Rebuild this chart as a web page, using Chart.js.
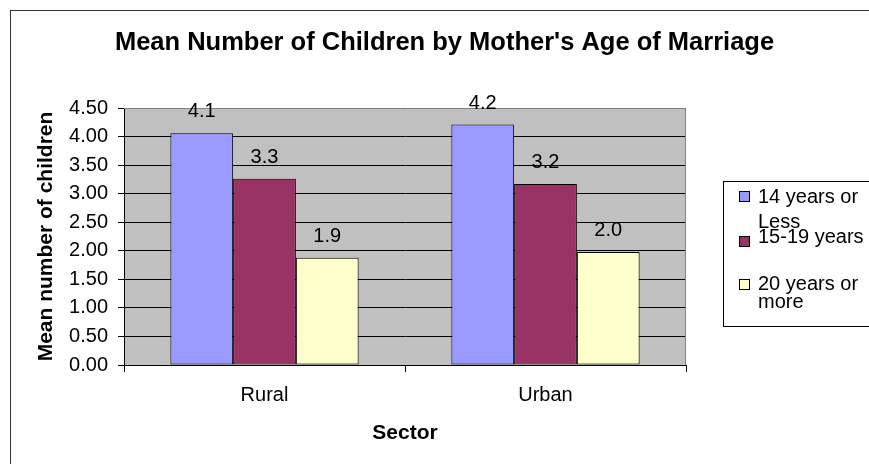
<!DOCTYPE html>
<html>
<head>
<meta charset="utf-8">
<script src="https://cdn.jsdelivr.net/npm/chart.js@4.4.0/dist/chart.umd.min.js"></script>
<style>
body { margin: 0; overflow: hidden; background: #fff; font-family: Arial, "Liberation Sans", sans-serif; }
#wrap { position: relative; width: 869px; height: 464px; }
#legend { position: absolute; left: 723px; top: 181px; width: 170px; height: 144px; border: 1px solid #000; }
.sw { position: absolute; width: 9px; height: 9px; border: 1px solid #000; }
.lt { position: absolute; font-size: 20px; line-height: 20px; white-space: nowrap; color: #000; }
</style>
</head>
<body>
<div id="wrap">
    <canvas id="chart" width="869" height="464"></canvas>
    <div id="legend"></div>
</div>
<script>
const sectors = ['Rural', 'Urban'];
const seriesNames = ['14 years or Less', '15-19 years', '20 years or more'];
const legendText = [['14 years or', 'Less'], ['15-19 years'], ['20 years or', 'more']];
const age14OrLess = [4.06, 4.21];
const age15to19 = [3.26, 3.17];
const age20OrMore = [1.88, 1.98];
const yMax = 4.5;
const yStep = 0.5;

const FONT = 'Arial, "Liberation Sans", sans-serif';
Chart.defaults.font.family = FONT;
Chart.defaults.color = '#000';

// grey plot area, grey border, outer frame
const plotBox = {
    id: 'plotBox',
    beforeDraw(chart) {
        const ctx = chart.ctx, a = chart.chartArea;
        ctx.save();
        ctx.fillStyle = '#fff';
        ctx.fillRect(0, 0, chart.width, chart.height);
        ctx.strokeStyle = '#333';
        ctx.lineWidth = 1;
        ctx.strokeRect(10.5, 10.5, 900, 500);
        ctx.fillStyle = '#c0c0c0';
        ctx.fillRect(a.left, a.top, a.right - a.left, a.bottom - a.top);
        ctx.restore();
    },
    afterDatasetsDraw(chart) {
        const ctx = chart.ctx, a = chart.chartArea;
        ctx.save();
        ctx.strokeStyle = '#808080';
        ctx.lineWidth = 1;
        ctx.beginPath();
        ctx.moveTo(a.left, a.top + 0.5);
        ctx.lineTo(a.right - 0.5, a.top + 0.5);
        ctx.lineTo(a.right - 0.5, a.bottom);
        ctx.stroke();
        ctx.restore();
    }
};

// value labels above the bars
const valueLabels = {
    id: 'valueLabels',
    afterDatasetsDraw(chart) {
        const ctx = chart.ctx;
        ctx.save();
        ctx.font = '20px ' + FONT;
        ctx.fillStyle = '#000';
        ctx.textAlign = 'center';
        ctx.textBaseline = 'alphabetic';
        chart.data.datasets.forEach((ds, i) => {
            chart.getDatasetMeta(i).data.forEach((bar, j) => {
                ctx.fillText(ds.data[j].toFixed(1), bar.x, bar.y - 16);
            });
        });
        ctx.restore();
    }
};

const data = {
    labels: sectors,
    datasets: [{
        label: seriesNames[0],
        data: age14OrLess,
        backgroundColor: '#9999ff',
    }, {
        label: seriesNames[1],
        data: age15to19,
        backgroundColor: '#993366',
    }, {
        label: seriesNames[2],
        data: age20OrMore,
        backgroundColor: '#ffffcc',
    }]
};
data.datasets.forEach(ds => {
    ds.borderColor = '#000';
    ds.borderWidth = 1;
    ds.borderSkipped = false;
    ds.categoryPercentage = 0.67;
    ds.barPercentage = 1.0;
});

const config = {
    type: 'bar',
    data: data,
    options: {
        responsive: false,
        animation: false,
        devicePixelRatio: 1,
        layout: { padding: { left: 20, right: 0, top: 0, bottom: 0 } },
        plugins: {
            legend: { display: false },
            tooltip: { enabled: false },
            title: {
                display: true,
                text: "Mean Number of Children by Mother's Age of Marriage",
                font: { size: 25.5, weight: 'bold' },
                color: '#000',
                padding: { top: 27.7, bottom: 49.7 }
            }
        },
        scales: {
            x: {
                grid: { drawOnChartArea: false, color: '#000', tickLength: 7 },
                border: { color: '#000' },
                ticks: { font: { size: 20 }, color: '#000', padding: 11 },
                title: {
                    display: true,
                    text: 'Sector',
                    font: { size: 21, weight: 'bold' },
                    color: '#000',
                    padding: { top: 0, bottom: 18.4 }
                },
                afterFit(s) { s.height = 99; }
            },
            y: {
                min: 0,
                max: yMax,
                grid: { color: '#000', tickLength: 6 },
                border: { color: '#000' },
                ticks: {
                    stepSize: yStep,
                    font: { size: 20 },
                    color: '#000',
                    padding: 10,
                    callback: v => v.toFixed(2)
                },
                title: {
                    display: true,
                    text: 'Mean number of children',
                    font: { size: 21, weight: 'bold' },
                    color: '#000',
                    padding: { top: 13.7, bottom: 0 }
                },
                afterFit(s) { s.width = 104; }
            },
            // empty axis that keeps room for the legend on the right
            spacer: {
                type: 'linear',
                position: 'right',
                grid: { display: false },
                border: { display: false },
                ticks: { display: false },
                afterFit(s) { s.width = 183; }
            }
        }
    },
    plugins: [plotBox, valueLabels]
};

window.addEventListener('load', function () {
    const chart = new Chart(document.getElementById('chart'), config);
    build_legend(chart);
});

function build_legend(chart) {
    const box = document.getElementById('legend');
    const swatchTops = [9, 54, 97];
    const lineTops = [[3.5, 28.5], [44], [91, 108.5]];
    chart.data.datasets.forEach((ds, i) => {
        const sw = document.createElement('div');
        sw.className = 'sw';
        sw.style.left = '15px';
        sw.style.top = swatchTops[i] + 'px';
        sw.style.background = ds.backgroundColor;
        box.appendChild(sw);
        legendText[i].forEach((line, k) => {
            const t = document.createElement('div');
            t.className = 'lt';
            t.style.left = '34px';
            t.style.top = lineTops[i][k] + 'px';
            t.textContent = line;
            box.appendChild(t);
        });
    });
}
</script>
</body>
</html>
